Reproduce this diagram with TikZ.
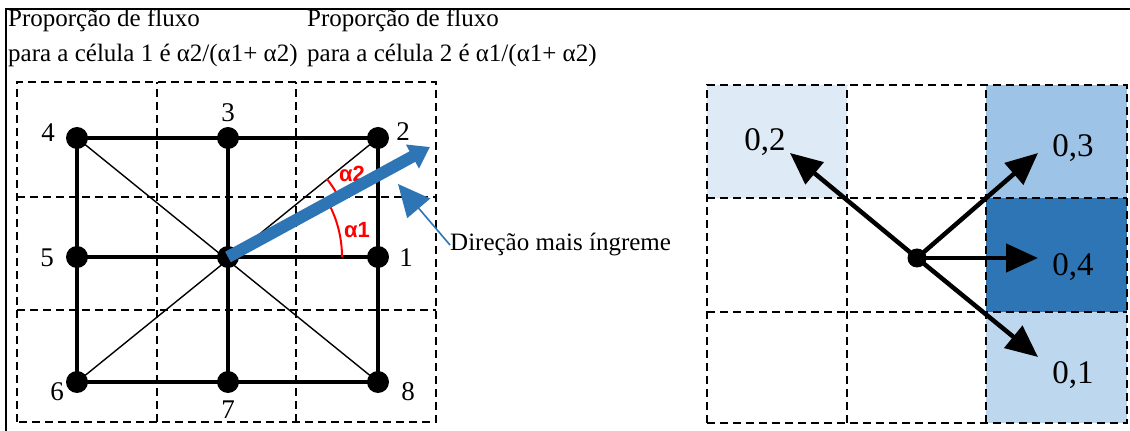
\documentclass[tikz,border=0pt]{standalone}
\usepackage{fontspec}
\setmainfont{Liberation Serif}
\newfontfamily\anglefont{Liberation Sans}
\usetikzlibrary{arrows.meta}

\definecolor{flowblue}{RGB}{46,117,182}
\definecolor{cellpale}{RGB}{222,235,247}
\definecolor{cellmid}{RGB}{157,195,230}
\definecolor{celllight}{RGB}{189,215,238}

\begin{document}
\begin{tikzpicture}[x=1pt, y=1pt,
	cellline/.style={dash pattern=on 8pt off 5pt, line width=2.3pt},
	dot/.style={circle, fill=black, inner sep=0pt, minimum size=22pt},
	num/.style={font=\fontsize{27}{27}\selectfont},
	val/.style={font=\fontsize{33}{33}\selectfont},
	txt/.style={font=\fontsize{25}{25}\selectfont, anchor=west, inner sep=0pt},
	bigarrow/.style={line width=4.5pt, -{Triangle[length=32pt, width=28pt]}}]

	\useasboundingbox (0,0) rectangle (1130,431);

	\draw[line width=2.2pt] (6,0) -- (6,422) -- (1130,422);

	\node[txt] (t1a) at (8,411) {Proporção de fluxo};
	\node[txt] (t1b) at (8,376) {para a célula 1 é α2/(α1+ α2)};
	\node[txt] (t2a) at (307,411) {Proporção de fluxo};
	\node[txt] (t2b) at (307,376) {para a célula 2 é α1/(α1+ α2)};

	\draw[cellline] (17,9) rectangle (436,349);
	\foreach \x in {157,296}
		\draw[cellline] (\x,9) -- (\x,349);
	\foreach \y in {121,234}
		\draw[cellline] (17,\y) -- (436,\y);

	\node[dot] (n4) at (77,293) {};
	\node[dot] (n3) at (228,293) {};
	\node[dot] (n2) at (378,293) {};
	\node[dot] (n5) at (77,174) {};
	\node[dot] (c) at (228,174) {};
	\node[dot] (n1) at (378,174) {};
	\node[dot] (n6) at (77,49) {};
	\node[dot] (n7) at (228,49) {};
	\node[dot] (n8) at (378,49) {};

	\draw[line width=4.8pt] (n4.center) -- (n2.center) -- (n8.center) -- (n6.center) -- cycle;
	\draw[line width=4.8pt] (n5.center) -- (n1.center);
	\draw[line width=4.8pt] (n3.center) -- (n7.center);
	\draw[line width=1.4pt] (n4.center) -- (n8.center);
	\draw[line width=1.4pt] (n6.center) -- (n2.center);

	\node[num] (l4) at (48,298) {4};
	\node[num] (l3) at (228,318) {3};
	\node[num] (l2) at (403,299) {2};
	\node[num] (l5) at (47,173) {5};
	\node[num] (l1) at (406,173) {1};
	\node[num] (l6) at (57,39) {6};
	\node[num] (l7) at (228,21) {7};
	\node[num] (l8) at (408,39) {8};

	\draw[red, line width=2pt] ([shift={(0:114)}]c.center) arc (0:28.4:114);
	\draw[red, line width=2pt] ([shift={(28.4:126)}]c.center) arc (28.4:38.4:126);
	\node[red, font=\anglefont\bfseries\fontsize{22}{22}\selectfont] (a1) at (357,201) {α1};
	\node[red, font=\anglefont\bfseries\fontsize{22}{22}\selectfont] (a2) at (352,257) {α2};

	\coordinate (tip) at (430,284);
	\draw[flowblue, line width=12pt, -{Triangle[length=20pt, width=26pt]}] (c.center) -- (tip);

	\node[txt] (dir) at (450,186) {Direção mais íngreme};
	\coordinate (aim) at (398,247);
	\draw[flowblue, line width=1.6pt, -{Triangle[length=32pt, width=30pt]}] (dir.west) -- (aim);

	\fill[cellpale] (707,233) rectangle (847,346);
	\fill[cellmid] (986,233) rectangle (1127,346);
	\fill[flowblue] (986,119) rectangle (1127,233);
	\fill[celllight] (986,8) rectangle (1127,119);

	\draw[cellline] (707,8) rectangle (1127,346);
	\foreach \x in {847,986}
		\draw[cellline] (\x,8) -- (\x,346);
	\foreach \y in {119,233}
		\draw[cellline] (707,\y) -- (1127,\y);

	\node[dot, minimum size=19pt] (m) at (917,173) {};

	\node[val] (v2) at (765,289) {0,2};
	\node[val] (v3) at (1073,283) {0,3};
	\node[val] (v4) at (1073,164) {0,4};
	\node[val] (v1) at (1073,56) {0,1};

	\coordinate (e2) at (790,278);
	\coordinate (e3) at (1038,278);
	\coordinate (e4) at (1038,173);
	\coordinate (e1) at (1038,74);

	\draw[bigarrow] (m.center) -- (e2);
	\draw[bigarrow] (m.center) -- (e3);
	\draw[bigarrow] (m.center) -- (e4);
	\draw[bigarrow] (m.center) -- (e1);

\end{tikzpicture}
\end{document}
